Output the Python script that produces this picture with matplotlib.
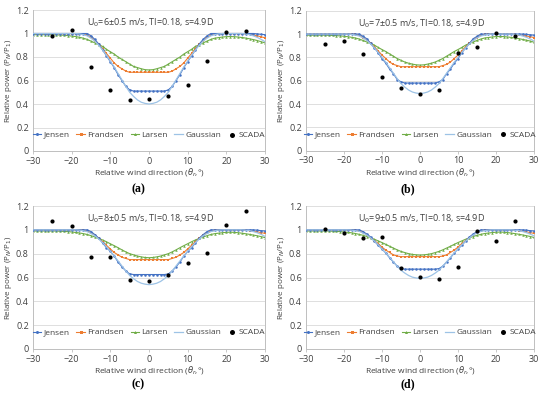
import matplotlib
matplotlib.use("Agg")
import matplotlib.pyplot as plt

plt.rcParams['font.family'] = ['Open Sans', 'DejaVu Sans']

THETA = list(range(-30, 31))
SCADA_X = [-25, -20, -15, -10, -5, 0, 5, 10, 15, 20, 25]

# ---------- panel (a) U0 = 6 m/s ----------
JENSEN_A = [1.0]*15 + [0.98, 0.95, 0.91, 0.86, 0.81, 0.76, 0.71, 0.65, 0.60, 0.55, 0.52] + [0.51]*9 + \
    [0.52, 0.55, 0.60, 0.65, 0.71, 0.76, 0.81, 0.86, 0.91, 0.95, 0.98] + [1.0]*12 + [0.997, 0.993, 0.99]
FRANDSEN_A = [1.0]*13 + [0.997, 0.985, 0.97, 0.94, 0.91, 0.87, 0.83, 0.79, 0.75, 0.72, 0.70, 0.68] + [0.67]*11 + \
    [0.68, 0.70, 0.72, 0.75, 0.79, 0.83, 0.87, 0.91, 0.94, 0.97, 0.985, 0.997] + [1.0]*7 + \
    [0.997, 0.992, 0.987, 0.98, 0.972, 0.963]
LARSEN_A = [0.99]*6 + [0.988, 0.987, 0.985, 0.982, 0.978, 0.974, 0.968, 0.96, 0.95, 0.935, 0.92, 0.905, 0.89,
                       0.865, 0.845, 0.825, 0.80, 0.78, 0.76, 0.74, 0.72, 0.71, 0.70, 0.692] + [0.69] + \
    [0.692, 0.70, 0.71, 0.72, 0.74, 0.76, 0.78, 0.80, 0.825, 0.845, 0.865, 0.89, 0.905, 0.92, 0.935, 0.95, 0.96] + \
    [0.965, 0.97, 0.973, 0.974, 0.973, 0.97, 0.966, 0.961, 0.955, 0.948, 0.94, 0.93, 0.92]
GAUSS_A = [1.0]*12 + [0.997, 0.99, 0.98, 0.96, 0.935, 0.90, 0.86, 0.815, 0.765, 0.715, 0.66, 0.605, 0.55, 0.50,
                      0.465, 0.435, 0.415, 0.405] + [0.40] + \
    [0.405, 0.415, 0.435, 0.465, 0.50, 0.55, 0.605, 0.66, 0.715, 0.765, 0.815, 0.86, 0.90, 0.935, 0.96, 0.98,
     0.99, 0.997] + [1.0]*6 + [0.997, 0.99, 0.98, 0.967, 0.95, 0.93]
SCADA_A = [0.98, 1.03, 0.717, 0.52, 0.438, 0.44, 0.47, 0.563, 0.768, 1.012, 1.024]

# ---------- panel (b) U0 = 7 m/s ----------
JENSEN_B = [1.0]*15 + [0.98, 0.96, 0.92, 0.88, 0.84, 0.79, 0.75, 0.70, 0.66, 0.61, 0.59] + [0.58]*9 + \
    [0.59, 0.61, 0.66, 0.70, 0.75, 0.79, 0.84, 0.88, 0.92, 0.96, 0.98] + [1.0]*12 + [0.997, 0.993, 0.99]
FRANDSEN_B = [1.0]*13 + [0.997, 0.99, 0.97, 0.95, 0.92, 0.89, 0.855, 0.82, 0.79, 0.76, 0.74, 0.73] + [0.72]*11 + \
    [0.73, 0.74, 0.76, 0.79, 0.82, 0.855, 0.89, 0.92, 0.95, 0.97, 0.99, 0.997] + [1.0]*7 + \
    [0.997, 0.993, 0.988, 0.983, 0.977, 0.97]
LARSEN_B = [0.99]*6 + [0.989, 0.988, 0.986, 0.984, 0.981, 0.977, 0.972, 0.966, 0.957, 0.945, 0.932, 0.92, 0.905,
                       0.885, 0.867, 0.85, 0.83, 0.81, 0.79, 0.775, 0.76, 0.75, 0.742, 0.736] + [0.734] + \
    [0.736, 0.742, 0.75, 0.76, 0.775, 0.79, 0.81, 0.83, 0.85, 0.867, 0.885, 0.905, 0.92, 0.932, 0.945, 0.957,
     0.966] + [0.97, 0.975, 0.978, 0.979, 0.978, 0.975, 0.971, 0.966, 0.96, 0.954, 0.947, 0.94, 0.93]
GAUSS_B = [1.0]*12 + [0.997, 0.991, 0.983, 0.966, 0.945, 0.915, 0.881, 0.843, 0.80, 0.758, 0.711, 0.664, 0.618,
                      0.575, 0.545, 0.52, 0.503, 0.494] + [0.49] + \
    [0.494, 0.503, 0.52, 0.545, 0.575, 0.618, 0.664, 0.711, 0.758, 0.80, 0.843, 0.881, 0.915, 0.945, 0.966,
     0.983, 0.991, 0.997] + [1.0]*6 + [0.997, 0.992, 0.983, 0.972, 0.958, 0.94]
SCADA_B = [0.911, 0.94, 0.83, 0.63, 0.54, 0.483, 0.52, 0.834, 0.891, 1.011, 0.98]

# ---------- panel (c) U0 = 8 m/s ----------
JENSEN_C = [1.0]*15 + [0.985, 0.96, 0.93, 0.89, 0.85, 0.82, 0.78, 0.73, 0.69, 0.655, 0.63] + [0.625]*9 + \
    [0.63, 0.655, 0.69, 0.73, 0.78, 0.82, 0.85, 0.89, 0.93, 0.96, 0.985] + [1.0]*12 + [0.997, 0.993, 0.99]
FRANDSEN_C = [1.0]*13 + [0.997, 0.99, 0.975, 0.955, 0.93, 0.90, 0.87, 0.84, 0.81, 0.79, 0.77, 0.76] + [0.75]*11 + \
    [0.76, 0.77, 0.79, 0.81, 0.84, 0.87, 0.90, 0.93, 0.955, 0.975, 0.99, 0.997] + [1.0]*7 + \
    [0.997, 0.993, 0.988, 0.983, 0.977, 0.97]
LARSEN_C = [0.99]*7 + [0.988, 0.987, 0.985, 0.982, 0.978, 0.974, 0.968, 0.961, 0.951, 0.94, 0.928, 0.915, 0.90,
                       0.883, 0.867, 0.85, 0.832, 0.815, 0.80, 0.79, 0.78, 0.773, 0.768] + [0.766] + \
    [0.768, 0.773, 0.78, 0.79, 0.80, 0.815, 0.832, 0.85, 0.867, 0.883, 0.90, 0.915, 0.928, 0.94, 0.951, 0.961,
     0.968] + [0.972, 0.976, 0.979, 0.98, 0.979, 0.976, 0.972, 0.967, 0.962, 0.956, 0.95, 0.943, 0.935]
GAUSS_C = [1.0]*12 + [0.998, 0.992, 0.985, 0.969, 0.95, 0.923, 0.893, 0.858, 0.82, 0.781, 0.739, 0.697, 0.655,
                      0.617, 0.59, 0.567, 0.552, 0.544] + [0.54] + \
    [0.544, 0.552, 0.567, 0.59, 0.617, 0.655, 0.697, 0.739, 0.781, 0.82, 0.858, 0.893, 0.923, 0.95, 0.969,
     0.985, 0.992, 0.998] + [1.0]*6 + [0.997, 0.993, 0.985, 0.975, 0.962, 0.945]
SCADA_C = [1.072, 1.03, 0.774, 0.774, 0.582, 0.571, 0.621, 0.724, 0.802, 1.042, 1.162]

# ---------- panel (d) U0 = 9 m/s ----------
JENSEN_D = [1.0]*15 + [0.985, 0.965, 0.94, 0.905, 0.87, 0.84, 0.805, 0.765, 0.73, 0.695, 0.675] + [0.67]*9 + \
    [0.675, 0.695, 0.73, 0.765, 0.805, 0.84, 0.87, 0.905, 0.94, 0.965, 0.985] + [1.0]*12 + [0.997, 0.993, 0.99]
FRANDSEN_D = [1.0]*13 + [0.998, 0.99, 0.98, 0.96, 0.935, 0.91, 0.885, 0.855, 0.83, 0.81, 0.79, 0.78] + [0.775]*11 + \
    [0.78, 0.79, 0.81, 0.83, 0.855, 0.885, 0.91, 0.935, 0.96, 0.98, 0.99, 0.998] + [1.0]*7 + \
    [0.997, 0.993, 0.988, 0.983, 0.977, 0.97]
LARSEN_D = [0.99]*7 + [0.988, 0.987, 0.985, 0.982, 0.979, 0.975, 0.969, 0.962, 0.954, 0.944, 0.933, 0.921, 0.907,
                       0.893, 0.878, 0.862, 0.847, 0.832, 0.819, 0.809, 0.80, 0.794, 0.79] + [0.788] + \
    [0.79, 0.794, 0.80, 0.809, 0.819, 0.832, 0.847, 0.862, 0.878, 0.893, 0.907, 0.921, 0.933, 0.944, 0.954,
     0.962, 0.969] + [0.973, 0.977, 0.98, 0.981, 0.98, 0.977, 0.973, 0.968, 0.963, 0.957, 0.951, 0.944, 0.936]
GAUSS_D = [1.0]*12 + [0.998, 0.993, 0.987, 0.973, 0.956, 0.932, 0.905, 0.875, 0.84, 0.807, 0.769, 0.732, 0.695,
                      0.661, 0.637, 0.617, 0.603, 0.596] + [0.593] + \
    [0.596, 0.603, 0.617, 0.637, 0.661, 0.695, 0.732, 0.769, 0.807, 0.84, 0.875, 0.905, 0.932, 0.956, 0.973,
     0.987, 0.993, 0.998] + [1.0]*6 + [0.997, 0.993, 0.986, 0.976, 0.964, 0.95]
SCADA_D = [1.008, 0.972, 0.933, 0.936, 0.677, 0.602, 0.59, 0.691, 0.992, 0.905, 1.072]

TITLES = ["U$_0$=6±0.5 m/s, TI=0.18, s=4.9D", "U$_0$=7±0.5 m/s, TI=0.18, s=4.9D",
          "U$_0$=8±0.5 m/s, TI=0.18, s=4.9D", "U$_0$=9±0.5 m/s, TI=0.18, s=4.9D"]
PANEL_LABELS = ["(a)", "(b)", "(c)", "(d)"]
X_TICKS = [-30, -20, -10, 0, 10, 20, 30]
Y_TICKS = [0, 0.2, 0.4, 0.6, 0.8, 1.0, 1.2]
Y_TICK_LABELS = ["0", "0.2", "0.4", "0.6", "0.8", "1", "1.2"]

PANELS = [
    (JENSEN_A, FRANDSEN_A, LARSEN_A, GAUSS_A, SCADA_A),
    (JENSEN_B, FRANDSEN_B, LARSEN_B, GAUSS_B, SCADA_B),
    (JENSEN_C, FRANDSEN_C, LARSEN_C, GAUSS_C, SCADA_C),
    (JENSEN_D, FRANDSEN_D, LARSEN_D, GAUSS_D, SCADA_D),
]

W, H = 550, 394
fig = plt.figure(figsize=(W / 100, H / 100), dpi=100)

# axes rectangles in pixel coordinates (left, top, right, bottom)
RECTS = [(33, 10, 265, 151), (306, 10.7, 534, 150.7), (33, 206, 265, 349), (306, 206, 534, 349)]
LABEL_POS = [(138, 189), (408, 189), (138, 384), (408, 384)]
XLABEL_Y = [172, 172, 370.5, 370.5]
YLABEL_X = [8.5, 281.5, 8.5, 281.5]

C_J, C_F, C_L, C_G = "#4472C4", "#ED7D31", "#70AD47", "#9DC3E6"
EDGE = "#BFBFBF"
TXT = "#404040"

for i, (rect, data) in enumerate(zip(RECTS, PANELS)):
    l, t, r, b = rect
    ax = fig.add_axes([l / W, 1 - b / H, (r - l) / W, (b - t) / H])
    jen, fra, lar, gau, sca = data
    ax.plot(THETA, jen, color=C_J, lw=0.8, marker='o', ms=1.8, mew=0, label="Jensen", zorder=4)
    ax.plot(THETA, fra, color=C_F, lw=0.8, marker='s', ms=1.8, mew=0, label="Frandsen", zorder=3)
    ax.plot(THETA, lar, color=C_L, lw=0.8, marker='^', ms=1.8, mew=0, label="Larsen", zorder=2)
    ax.plot(THETA, gau, color=C_G, lw=0.9, label="Gaussian", zorder=5)
    ax.scatter(SCADA_X, sca, s=9, color="black", label="SCADA", zorder=6, linewidths=0)

    ax.set_xlim(-30, 30)
    ax.set_ylim(0, 1.2)
    ax.set_xticks(X_TICKS)
    ax.set_yticks(Y_TICKS)
    ax.set_yticklabels(Y_TICK_LABELS)
    ax.tick_params(labelsize=6.5, length=2.5, width=0.6, pad=1.5)
    ax.tick_params(axis='x', colors=EDGE, labelcolor=TXT)
    ax.tick_params(axis='y', length=0, labelcolor=TXT, pad=3)
    ax.grid(axis='y', color="#D9D9D9", lw=0.6)
    ax.set_axisbelow(True)
    for s in ax.spines.values():
        s.set_color(EDGE)
        s.set_linewidth(0.7)
    ax.spines['top'].set_visible(False)

    ax.text(0.5, 1.09, TITLES[i], ha='center', va='center', fontsize=6.5, color=TXT)
    ax.set_xlabel("Relative wind direction ($\\theta_r$,°)", fontsize=6, color=TXT, va='center')
    ax.set_ylabel("Relative power (P$_N$/P$_1$)", fontsize=5.8, color=TXT, va='center')
    ax.xaxis.set_label_coords(0.5, (b - XLABEL_Y[i]) / (b - t))
    ax.yaxis.set_label_coords((YLABEL_X[i] - l) / (r - l), 0.5)

    ax.legend(loc='center', bbox_to_anchor=(0.5, 0.115), ncol=5, frameon=False, fontsize=6,
              handlelength=1.0, columnspacing=0.8, handletextpad=0.3, labelcolor=TXT,
              markerscale=1.2, borderaxespad=0, borderpad=0)

    lx, ly = LABEL_POS[i]
    fig.text(lx / W, 1 - ly / H, PANEL_LABELS[i], ha='center', va='center', fontsize=8.5,
             fontweight='bold', family='Liberation Serif')

fig.savefig("out.png", dpi=100)
